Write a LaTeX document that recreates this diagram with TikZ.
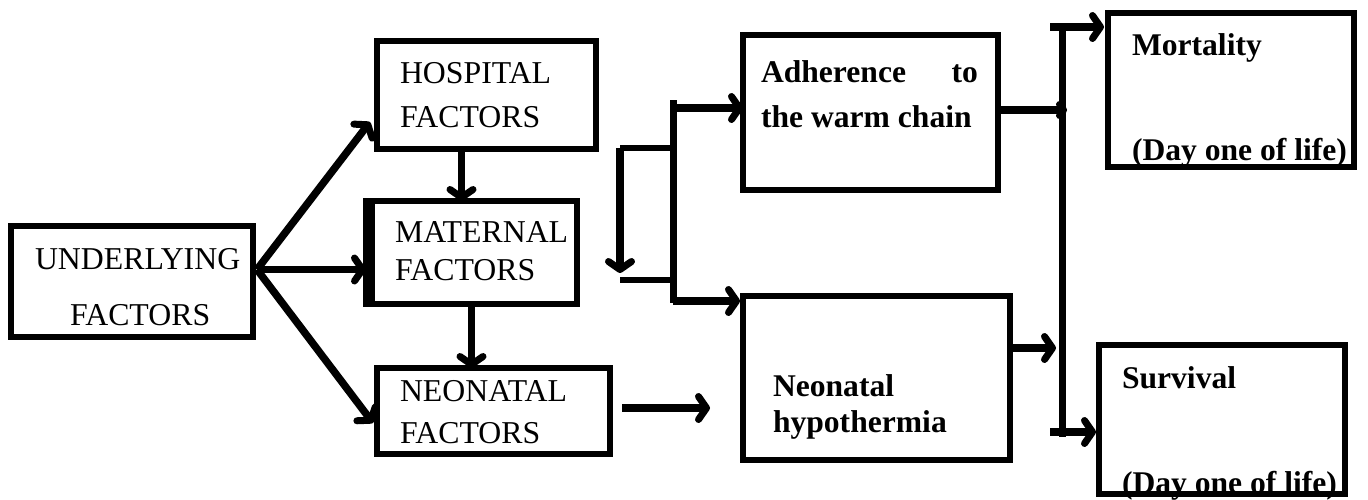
\documentclass[tikz,border=0pt]{standalone}
\usepackage{fontspec}
\setmainfont{Liberation Serif}
\usetikzlibrary{arrows.meta,calc}
\begin{document}
\begin{tikzpicture}[x=1pt,y=-1pt,
  box/.style={draw,line width=6pt,rectangle,inner sep=0pt,outer sep=0pt},
  txt/.style={inner sep=0pt,outer sep=0pt,anchor=base west,font=\fontsize{31.8}{38}\selectfont},
  btxt/.style={txt,font=\fontsize{31.6}{38}\selectfont\bfseries},
  arr/.style={line width=7.5pt,-{Straight Barb[length=8pt,width=23pt,line width=7pt,round]}},
  sarr/.style={line width=7.5pt,-{Straight Barb[length=4pt,width=11pt,line width=7pt,round]}},
  ln/.style={line width=7pt}]
\useasboundingbox (0,0) rectangle (1368,499);
% boxes
\node[box,minimum width=242pt,minimum height=111pt] (und) at (132,281.5) {};
\node[box,minimum width=219pt,minimum height=108pt] (hosp) at (486.5,95) {};
\node[box,minimum width=211pt,minimum height=103pt] (mat) at (471.5,252.5) {};
\draw[line width=6pt] ([xshift=6pt]mat.north west) -- ([xshift=6pt]mat.south west);
\node[box,minimum width=233pt,minimum height=86pt] (neo) at (493.5,411) {};
\node[box,minimum width=255pt,minimum height=155pt] (adh) at (870.5,112.5) {};
\node[box,minimum width=267pt,minimum height=164pt] (hyp) at (876.5,378) {};
\node[box,minimum width=246pt,minimum height=154pt] (mort) at (1231,90) {};
\node[box,minimum width=246pt,minimum height=149pt] (surv) at (1222,419.5) {};
% texts
\node[txt] (t1) at (35,269) {UNDERLYING};
\node[txt] (t2) at (70,325) {FACTORS};
\node[txt] (t3) at (400,83) {HOSPITAL};
\node[txt] (t4) at (400,127) {FACTORS};
\node[txt] (t5) at (395,242) {MATERNAL};
\node[txt] (t6) at (395,280) {FACTORS};
\node[txt] (t7) at (400,401) {NEONATAL};
\node[txt] (t8) at (400,443) {FACTORS};
\node[btxt] (t9) at (761,82) {Adherence};
\node[btxt,anchor=base east] (t10) at (978,82) {to};
\node[btxt] (t11) at (761,127) {the warm chain};
\node[btxt] (t12) at (773,396) {Neonatal};
\node[btxt] (t13) at (773,432) {hypothermia};
\node[btxt] (t14) at (1132,55) {Mortality};
\node[btxt] (t15) at (1132,160) {(Day one of life)};
\node[btxt] (t16) at (1122,388) {Survival};
\node[btxt] (t17) at (1122,493) {(Day one of life)};
% fan from underlying
\coordinate (fan) at ($(und.east)+(4,-12)$);
\draw[arr] (fan) -- ($(hosp.south west)+(-7,-27)$);
\draw[arr] (fan) -- (fan -| mat.west);
\draw[arr] (fan) -- ($(neo.west)+(-4,12)$);
% vertical chain
\draw[arr] ([xshift=-10pt]mat.north |- hosp.south) -- ([xshift=-10pt]mat.north);
\draw[arr] (mat.south) -- (mat.south |- neo.north);
% neonatal -> hypothermia
\coordinate (n1) at ($(neo.east)+(12,-3)$);
\coordinate (n2) at ($(hyp.west)+(-33,30)$);
\draw[arr] (n1) -- (n1 -| n2);
% bracket
\coordinate (b1) at (673,100);
\coordinate (b2) at (673,303);
\coordinate (c1) at (620,148);
\coordinate (c2) at (620,280);
\draw[ln] (b1) -- (b2);
\draw[arr] (673,108) -- (adh.west |- 0,108);
\draw[arr] (b2 |- 0,301) -- ($(hyp.north west)+(-3,5)$);
\draw[ln,line width=6.5pt] (c1) -- (c1 -| b1);
\draw[arr] (c1) -- (620,273);
\draw[ln,line width=6.5pt] (c2) -- (c2 -| b1);
% outcome distribution
\coordinate (v1) at (1062,30);
\coordinate (v2) at (1062,437);
\draw[ln] (v1) -- (v2);
\draw[sarr] (adh.east |- 0,110) -- (1067,110);
\draw[arr] (hyp.east |- 0,348) -- (1056,348);
\draw[arr] (1050,27) -- ($(mort.west |- 0,27)+(-4,0)$);
\draw[arr] (1050,432) -- ($(surv.west |- 0,432)+(-3,0)$);
\end{tikzpicture}
\end{document}
